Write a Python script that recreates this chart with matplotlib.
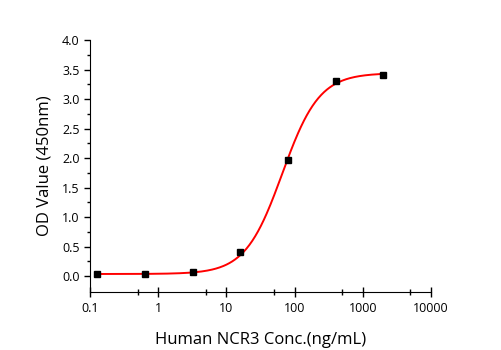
import numpy as np
import matplotlib
matplotlib.use("Agg")
import matplotlib.pyplot as plt
from matplotlib.ticker import FixedLocator, NullFormatter

# datos (dilucion 1:5)
conc = [0.128, 0.64, 3.2, 16, 80, 400, 2000]
od = [0.03, 0.04, 0.07, 0.41, 1.97, 3.30, 3.40]

# parametros del ajuste logistico 4PL
bottom, top, ec50, hill = 0.035, 3.44, 66.0, 1.6

x_ticks = [0.1, 1, 10, 100, 1000, 10000]
x_tick_labels = ["0.1", "1", "10", "100", "1000", "10000"]
x_minor = [0.5, 5, 50, 500, 5000]
y_ticks = [0.0, 0.5, 1.0, 1.5, 2.0, 2.5, 3.0, 3.5, 4.0]

plt.rcParams["font.family"] = ["Open Sans", "DejaVu Sans"]

fig = plt.figure(figsize=(5.01, 3.5), dpi=100)
ax = fig.add_axes([0.1796, 0.1657, 0.6807, 0.72])

xs = np.logspace(np.log10(conc[0]), np.log10(conc[-1]), 300)
ys = bottom + (top - bottom) / (1 + (ec50 / xs) ** hill)
ax.plot(xs, ys, color="red", lw=1.4, zorder=2)
ax.plot(conc, od, "s", color="black", ms=5, zorder=3)

ax.set_xscale("log")
ax.set_xlim(0.1, 10000)
ax.set_ylim(-0.27, 4.0)
ax.xaxis.set_major_locator(FixedLocator(x_ticks))
ax.set_xticklabels(x_tick_labels)
ax.xaxis.set_minor_locator(FixedLocator(x_minor))
ax.xaxis.set_minor_formatter(NullFormatter())
ax.set_yticks(y_ticks)
ax.set_yticklabels([f"{v:.1f}" for v in y_ticks])
ax.yaxis.set_minor_locator(FixedLocator(np.arange(0.25, 4.0, 0.5)))

for s in ["top", "right"]:
    ax.spines[s].set_visible(False)
ax.tick_params(axis="x", which="major", direction="inout", length=7, width=1, labelsize=9, pad=4)
ax.tick_params(axis="x", which="minor", direction="inout", length=4, width=1)
ax.tick_params(axis="y", which="major", direction="out", length=4, width=1, labelsize=9)
ax.tick_params(axis="y", which="minor", direction="out", length=2.5, width=1)

ax.set_xlabel("Human NCR3 Conc.(ng/mL)", fontsize=12, labelpad=12)
ax.set_ylabel("OD Value (450nm)", fontsize=12, labelpad=7)

fig.savefig("out.png", dpi=100)
